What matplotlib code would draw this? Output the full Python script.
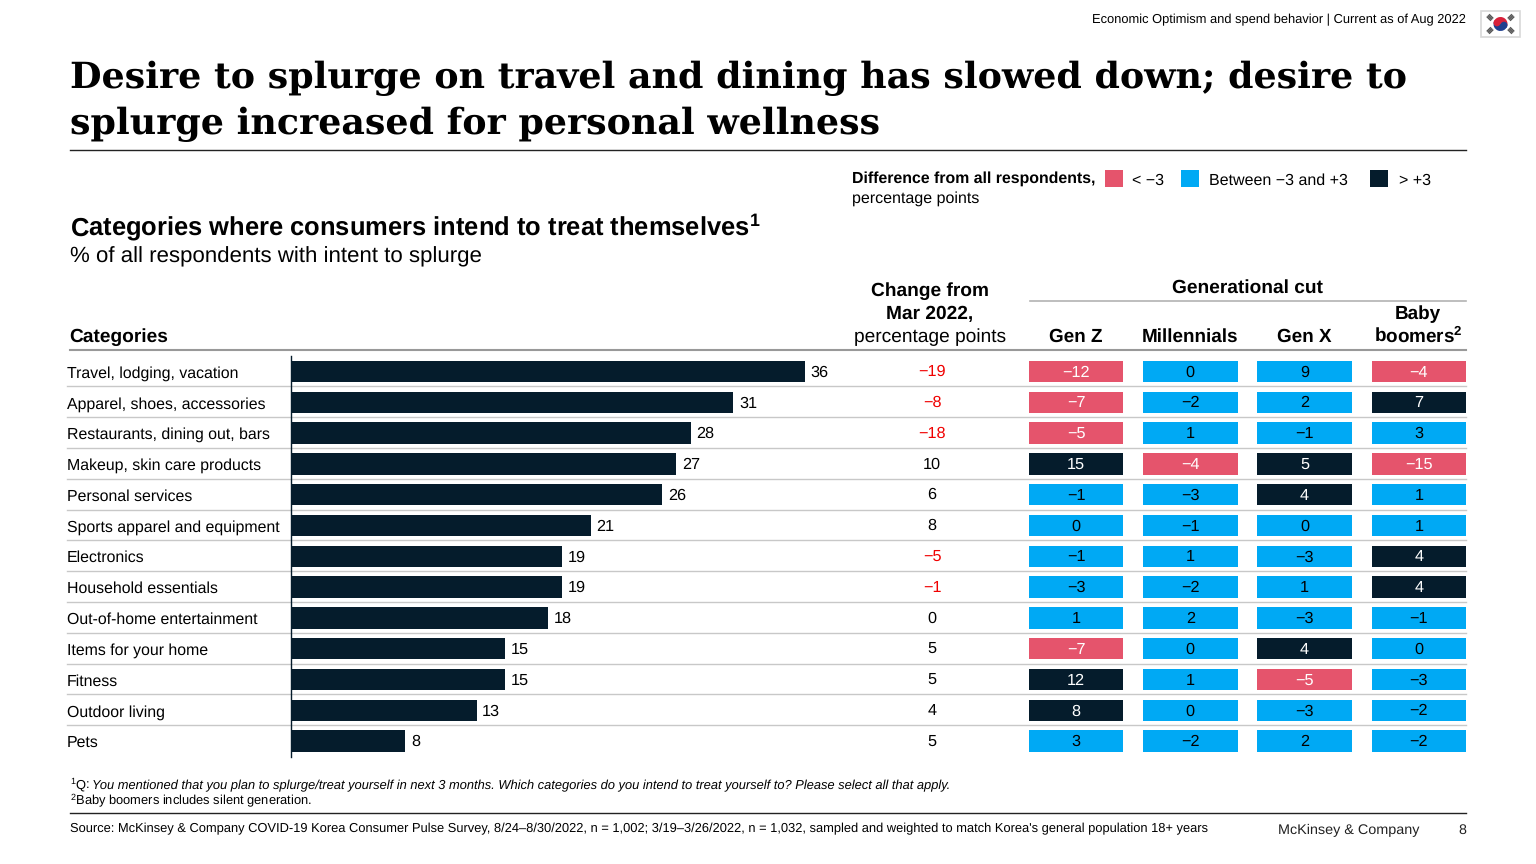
"""Korea consumer splurge intent by category, with generational cut."""

import matplotlib
matplotlib.use("Agg")
import matplotlib.pyplot as plt
from matplotlib.patches import Circle, Rectangle, Wedge

categories = ["Travel, lodging, vacation", "Apparel, shoes, accessories",
              "Restaurants, dining out, bars", "Makeup, skin care products",
              "Personal services", "Sports apparel and equipment", "Electronics",
              "Household essentials", "Out-of-home entertainment",
              "Items for your home", "Fitness", "Outdoor living", "Pets"]
intent = [36, 31, 28, 27, 26, 21, 19, 19, 18, 15, 15, 13, 8]
change = [-19, -8, -18, 10, 6, 8, -5, -1, 0, 5, 5, 4, 5]
gen_names = ["Gen Z", "Millennials", "Gen X", "boomers$^{\\mathbf{2}}$"]
gen_z = [-12, -7, -5, 15, -1, 0, -1, -3, 1, -7, 12, 8, 3]
millennials = [0, -2, 1, -4, -3, -1, 1, -2, 2, 0, 1, 0, -2]
gen_x = [9, 2, -1, 5, 4, 0, -3, 1, -3, 4, -5, -3, 2]
boomers = [-4, 7, 3, -15, 1, 1, 4, 4, -1, 0, -3, -2, -2]

DARK = "#051C2C"
BLUE = "#00A9F4"
PINK = "#E5546C"
RED = "#F00000"
GREY = "#B3B3B3"
W, H = 1536, 864

plt.rcParams["font.family"] = ["Liberation Sans", "DejaVu Sans"]
plt.rcParams["mathtext.fontset"] = "custom"
plt.rcParams["mathtext.rm"] = "Liberation Sans"
plt.rcParams["mathtext.bf"] = "Liberation Sans:bold"
plt.rcParams["text.hinting"] = "no_hinting"


def fmt(v):
    return str(v).replace("-", "\u2212")


def px_axes(left, top, right, bottom):
    return fig.add_axes([left / W, 1 - bottom / H, (right - left) / W, (bottom - top) / H])


fig = plt.figure(figsize=(W / 100, H / 100), dpi=100, facecolor="white")

# overlay in pixel coordinates, for the slide furniture
page = fig.add_axes([0, 0, 1, 1])
page.set_xlim(0, W)
page.set_ylim(H, 0)
page.axis("off")

ROW0, ROW_STEP = 371.5, 30.8
top_px = ROW0 - ROW_STEP / 2
bot_px = ROW0 + 12.5 * ROW_STEP

# bars
ax = px_axes(291, top_px, 1000, bot_px)
ax.patch.set_alpha(0)
rows = list(range(len(categories)))
ax.barh(rows, intent, height=0.7, color=DARK)
ax.set_xlim(0, 709 / 14.27)
ax.set_ylim(12.5, -0.5)
for spine in ["top", "right", "bottom"]:
    ax.spines[spine].set_visible(False)
ax.spines["left"].set_color(DARK)
ax.spines["left"].set_linewidth(1.0)
ax.set_xticks([])
ax.set_yticks([])
for r, v in zip(rows, intent):
    ax.text(v + 0.4, r + 0.03, str(v), fontsize=11.7, va="center", color="black")
for r, name in zip(rows, categories):
    page.text(67, ROW0 + r * ROW_STEP + 1.8, name, fontsize=11.45, va="center", color="black")

# generational cells
gen = px_axes(1019, top_px, 1476, bot_px)
gen.patch.set_alpha(0)
gen.set_xlim(-0.5, 3.5)
gen.set_ylim(12.5, -0.5)
gen.axis("off")
for c, col in enumerate([gen_z, millennials, gen_x, boomers]):
    for r, v in enumerate(col):
        fill = PINK if v < -3 else DARK if v > 3 else BLUE
        if c == 2 and r == 0:  # source chart shows this 9 in blue
            fill = BLUE
        gen.bar(c, 0.7, width=0.825, bottom=r - 0.35, color=fill)
        gen.text(c, r + 0.03, fmt(v), ha="center", va="center", fontsize=11.7,
                 color="black" if fill == BLUE else "white")

# change column
for r, v in enumerate(change):
    page.text(932, ROW0 + r * ROW_STEP + 0.5, fmt(v), ha="center", va="center", fontsize=11.7,
              color=RED if v < 0 else "black")

# row separators
for r in range(12):
    y = ROW0 + (r + 0.5) * ROW_STEP - 0.5
    page.plot([67, 1466], [y, y], color="#C8C8C8", lw=1.0, zorder=0)

# headers
page.plot([70, 1466], [150, 150], color="#222222", lw=1.0)
page.plot([70, 1466], [349.5, 349.5], color="#999999", lw=1.5)
page.plot([1030, 1466], [300.5, 300.5], color=GREY, lw=1.2)
page.text(69.5, 88, "Desire to splurge on travel and dining has slowed down; desire to",
          family=["DejaVu Serif"], weight="bold", fontsize=26.2, color="black")
page.text(69.5, 134, "splurge increased for personal wellness",
          family=["DejaVu Serif"], weight="bold", fontsize=26.2, color="black")
page.text(69.5, 235, "Categories where consumers intend to treat themselves$^{\\mathbf{1}}$",
          weight="bold", fontsize=18.4, color="black")
page.text(70, 262, "% of all respondents with intent to splurge", fontsize=16.0, color="black")
page.text(69.5, 342, "Categories", weight="bold", fontsize=13.8, color="black")
page.text(930, 296, "Change from", weight="bold", fontsize=13.8, ha="center", color="black")
page.text(930, 319, "Mar 2022,", weight="bold", fontsize=13.8, ha="center", color="black")
page.text(930, 342, "percentage points", fontsize=13.8, ha="center", color="black")
page.text(1247, 293, "Generational cut", weight="bold", fontsize=13.8, ha="center", color="black")
for x, name in zip([1076, 1190, 1304, 1418], gen_names):
    page.text(x, 342, name, weight="bold", fontsize=13.6, ha="center", color="black")
page.text(1418, 319, "Baby", weight="bold", fontsize=13.6, ha="center", color="black")

# legend
page.text(852, 183, "Difference from all respondents,", weight="bold", fontsize=11.45, color="black")
page.text(852, 203, "percentage points", fontsize=11.55, color="black")
for x, color in [(1105, PINK), (1181, BLUE), (1370, DARK)]:
    page.add_patch(Rectangle((x, 170), 18, 17, color=color, lw=0))
page.text(1132, 185, "< \u22123", fontsize=11.55, color="black")
page.text(1209, 185, "Between \u22123 and +3", fontsize=11.55, color="black")
page.text(1399, 185, "> +3", fontsize=11.55, color="black")

# footnotes
page.text(70, 789, "$^{1}$Q: ", fontsize=9.3, color="black")
page.text(92, 789, "You mentioned that you plan to splurge/treat yourself in next 3 months. "
          "Which categories do you intend to treat yourself to? Please select all that apply.",
          style="italic", fontsize=9.32, color="black")
page.text(70, 805, "$^{2}$Baby boomers includes silent generation.", fontsize=9.3, color="black")
page.plot([70, 1466], [813, 813], color="#222222", lw=1.0)
page.text(70, 832, "Source: McKinsey & Company COVID-19 Korea Consumer Pulse Survey, 8/24\u20138/30/2022, "
          "n = 1,002; 3/19\u20133/26/2022, n = 1,032, sampled and weighted to match Korea's general "
          "population 18+ years", fontsize=9.3, color="black")
page.text(1278, 834, "McKinsey & Company", fontsize=10.35, color="#222222")
page.text(1466, 834, "8", fontsize=10.3, ha="right", color="#222222")
page.text(1466, 23, "Economic Optimism and spend behavior | Current as of Aug 2022",
          fontsize=9.3, ha="right", color="black")

# flag
page.add_patch(Rectangle((1481, 11), 39, 26, fc="white", ec="#D8D8D8", lw=1.2))
page.add_patch(Wedge((1500.5, 24), 7, 200, 20, fc="#D8213A", lw=0))
page.add_patch(Wedge((1500.5, 24), 7, 20, 200, fc="#1F3F8F", lw=0))
page.add_patch(Circle((1497, 22.8), 3.5, fc="#D8213A", lw=0))
page.add_patch(Circle((1504, 25.2), 3.5, fc="#1F3F8F", lw=0))
for fx, fy, sign in [(1490, 17.5, 1), (1511, 17.5, -1), (1490, 30.5, -1), (1511, 30.5, 1)]:
    for k in (-1.6, 0, 1.6):
        cx, cy = fx + k * 0.7, fy - sign * k * 0.7
        page.plot([cx - 2.1, cx + 2.1], [cy - sign * 2.1, cy + sign * 2.1],
                  color="#555555", lw=1.1, solid_capstyle="butt")

fig.savefig("out.png", dpi=100, facecolor="white")
